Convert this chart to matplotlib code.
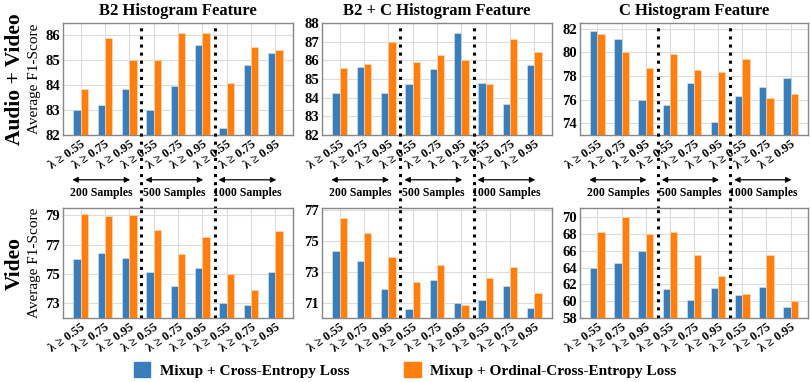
import matplotlib
matplotlib.use("Agg")
import matplotlib.pyplot as plt
import numpy as np

plt.rcParams['font.family'] = ['Liberation Serif', 'DejaVu Serif']

tick_labels = ["λ ≥ 0.55", "λ ≥ 0.75", "λ ≥ 0.95"] * 3
sample_labels = ["200 Samples", "500 Samples", "1000 Samples"]
titles = ["B2 Histogram Feature", "B2 + C Histogram Feature", "C Histogram Feature"]
row_labels = ["Audio + Video", "Video"]
legend_labels = ["Mixup + Cross-Entropy Loss", "Mixup + Ordinal-Cross-Entropy Loss"]

# audio + video row
av_b2_ce = [83.0, 83.2, 83.85, 83.0, 83.95, 85.6, 82.3, 84.8, 85.3]
av_b2_oce = [83.85, 85.9, 85.0, 85.0, 86.1, 86.1, 84.1, 85.55, 85.4]
av_b2c_ce = [84.25, 85.65, 84.25, 84.75, 85.55, 87.45, 84.8, 83.65, 85.75]
av_b2c_oce = [85.6, 85.8, 87.0, 85.9, 86.3, 86.0, 84.75, 87.15, 86.45]
av_c_ce = [81.8, 81.15, 75.95, 75.55, 77.45, 74.1, 76.35, 77.1, 77.8]
av_c_oce = [81.6, 80.0, 78.7, 79.85, 78.5, 78.35, 79.45, 76.15, 76.45]

# video row
v_b2_ce = [76.0, 76.4, 76.1, 75.15, 74.15, 75.4, 73.0, 72.9, 75.15]
v_b2_oce = [79.1, 78.95, 79.05, 78.0, 76.35, 77.55, 75.0, 73.9, 77.9]
v_b2c_ce = [74.3, 73.7, 71.9, 70.55, 72.45, 71.0, 71.15, 72.05, 70.65]
v_b2c_oce = [76.45, 75.5, 73.95, 72.3, 73.45, 70.85, 72.6, 73.3, 71.6]
v_c_ce = [64.0, 64.6, 66.0, 61.5, 60.2, 61.6, 60.7, 61.7, 59.3]
v_c_oce = [68.2, 70.0, 68.0, 68.2, 65.5, 63.0, 60.9, 65.5, 60.0]

data = [[(av_b2_ce, av_b2_oce), (av_b2c_ce, av_b2c_oce), (av_c_ce, av_c_oce)],
        [(v_b2_ce, v_b2_oce), (v_b2c_ce, v_b2c_oce), (v_c_ce, v_c_oce)]]
ylims = [[(82, 86.5), (82, 88), (73, 82.5)],
         [(72, 79.5), (70, 77.1), (58, 71.1)]]
yticks = [[[82, 83, 84, 85, 86], [82, 83, 84, 85, 86, 87, 88], [74, 76, 78, 80, 82]],
          [[73, 75, 77, 79], [71, 73, 75, 77], [58, 60, 62, 64, 66, 68, 70]]]

blue = '#3a7dbb'
orange = '#ff7f0e'

fig = plt.figure(figsize=(8.1, 3.82), dpi=100)
lefts = [63 / 810, 322 / 810, 580 / 810]
widths = [230 / 810, 230 / 810, 228 / 810]
bottoms = [1 - 135 / 382, 1 - 318 / 382]
heights = [112 / 382, 110 / 382]

x = np.arange(9)
w = 0.3
for r in range(2):
    for c in range(3):
        ax = fig.add_axes([lefts[c], bottoms[r], widths[c], heights[r]])
        ce, oce = data[r][c]
        ax.bar(x - w / 2, ce, w, color=blue, edgecolor='#dfe8f3', linewidth=0.4, zorder=3)
        ax.bar(x + w / 2, oce, w, color=orange, edgecolor='#ffe0c0', linewidth=0.4, zorder=3)
        ax.set_xlim(-0.72, 8.72)
        ax.set_ylim(*ylims[r][c])
        ax.set_yticks(yticks[r][c])
        ax.set_xticks(x)
        ax.set_xticklabels(tick_labels, rotation=35, ha='right', rotation_mode='anchor',
                           fontsize=9, fontweight='bold')
        for lab in ax.get_yticklabels():
            lab.set_fontsize(10.5)
            lab.set_fontweight('bold')
        ax.tick_params(length=0, pad=2)
        ax.grid(True, color='#dcdcdc', linewidth=0.8, zorder=0)
        ax.set_axisbelow(True)
        for s in ax.spines.values():
            s.set_color('#888888')
            s.set_linewidth(1.0)
        # separators between sample sizes
        for xs in [2.5, 5.5]:
            if r == 0:
                ax.axvline(xs, ymin=-0.66, ymax=1, color='black', linestyle=':',
                           linewidth=2.2, clip_on=False, zorder=4)
            else:
                ax.axvline(xs, color='black', linestyle=':', linewidth=2.2, zorder=4)
        if r == 0:
            ax.set_title(titles[c], fontsize=12, fontweight='bold', pad=6)
            for k in range(3):
                x0 = 3 * k - 0.45
                x1 = 3 * k + 2.15
                ax.annotate('', xy=(x0, -0.40), xytext=(x1, -0.40),
                            xycoords=('data', 'axes fraction'),
                            arrowprops=dict(arrowstyle='<|-|>', color='black', lw=0.9,
                                            mutation_scale=8))
                ax.text((x0 + x1) / 2, -0.52, sample_labels[k], transform=ax.get_xaxis_transform(),
                        ha='center', va='center', fontsize=8.5, fontweight='bold')
        if c == 0:
            ax.set_ylabel('Average F1-Score', fontsize=11, labelpad=3)
            fig.text(15 / 810, bottoms[r] + heights[r] / 2, row_labels[r], rotation=90,
                     ha='center', va='center', fontsize=15.5, fontweight='bold')

handles = [plt.Rectangle((0, 0), 1, 1, color=blue), plt.Rectangle((0, 0), 1, 1, color=orange)]
fig.legend(handles, legend_labels, loc='center', bbox_to_anchor=(405 / 810, 1 - 370 / 382),
           ncol=2, frameon=False, prop={'size': 11, 'weight': 'bold'},
           handlelength=1.1, handleheight=1.1, columnspacing=3.6, handletextpad=0.6)

fig.savefig('out.png', dpi=100)
